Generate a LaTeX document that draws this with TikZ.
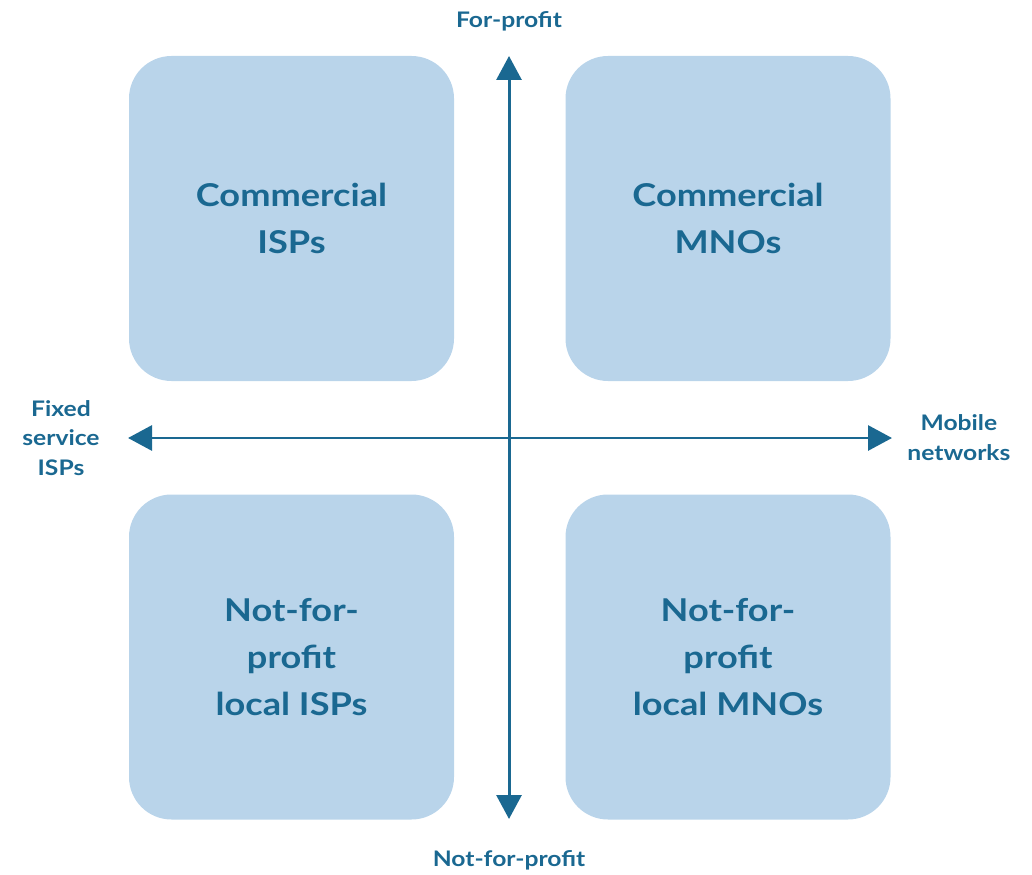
\documentclass[tikz,border=0pt]{standalone}
\usepackage{fontspec}
\setmainfont{Lato}[FakeStretch=1.15]
\usetikzlibrary{arrows.meta,positioning}
\definecolor{quadfill}{HTML}{B9D4EA}
\definecolor{axisblue}{HTML}{1A6891}
\def\quadsize{6.5cm}

\begin{document}
\begin{tikzpicture}[
    quad/.style={fill=quadfill, rounded corners=0.85cm, minimum width=\quadsize,
      minimum height=\quadsize, text=axisblue, align=center,
      font=\fontsize{17.9}{26.5}\selectfont\bfseries},
    axislabel/.style={text=axisblue, align=center, inner sep=0pt,
      font=\fontsize{12.2}{17}\selectfont\bfseries},
    axis/.style={draw=axisblue, line width=1.7pt,
      {Triangle[length=0.48cm,width=0.5cm]}-{Triangle[length=0.48cm,width=0.5cm]}}
  ]
  \useasboundingbox (0,0) rectangle (20.64,17.48);

  % quadrants
  \node[quad] (cisp) at (5.83,13.11) {Commercial\\ISPs};
  \node[quad] (cmno) at (14.56,13.11) {Commercial\\MNOs};
  \node[quad] (nisp) at (5.83,4.34) {Not-for-\\profit\\local ISPs};
  \node[quad] (nmno) at (14.56,4.34) {Not-for-\\profit\\local MNOs};

  % axes
  \coordinate (top) at (10.18,16.36);
  \coordinate (bottom) at (10.18,1.1);
  \coordinate (left) at (2.56,8.72);
  \coordinate (right) at (17.84,8.72);
  \draw[axis] (bottom) -- (top);
  \draw[axis] (left) -- (right);

  \node[axislabel, above=0.5cm of top] (forprofit) {For-profit};
  \node[axislabel, below=0.62cm of bottom] (notprofit) {Not-for-profit};
  \node[axislabel, left=0.56cm of left] (fixed) {Fixed\\service\\ISPs};
  \node[axislabel, right=0.3cm of right] (mobile) {Mobile\\networks};
\end{tikzpicture}
\end{document}
